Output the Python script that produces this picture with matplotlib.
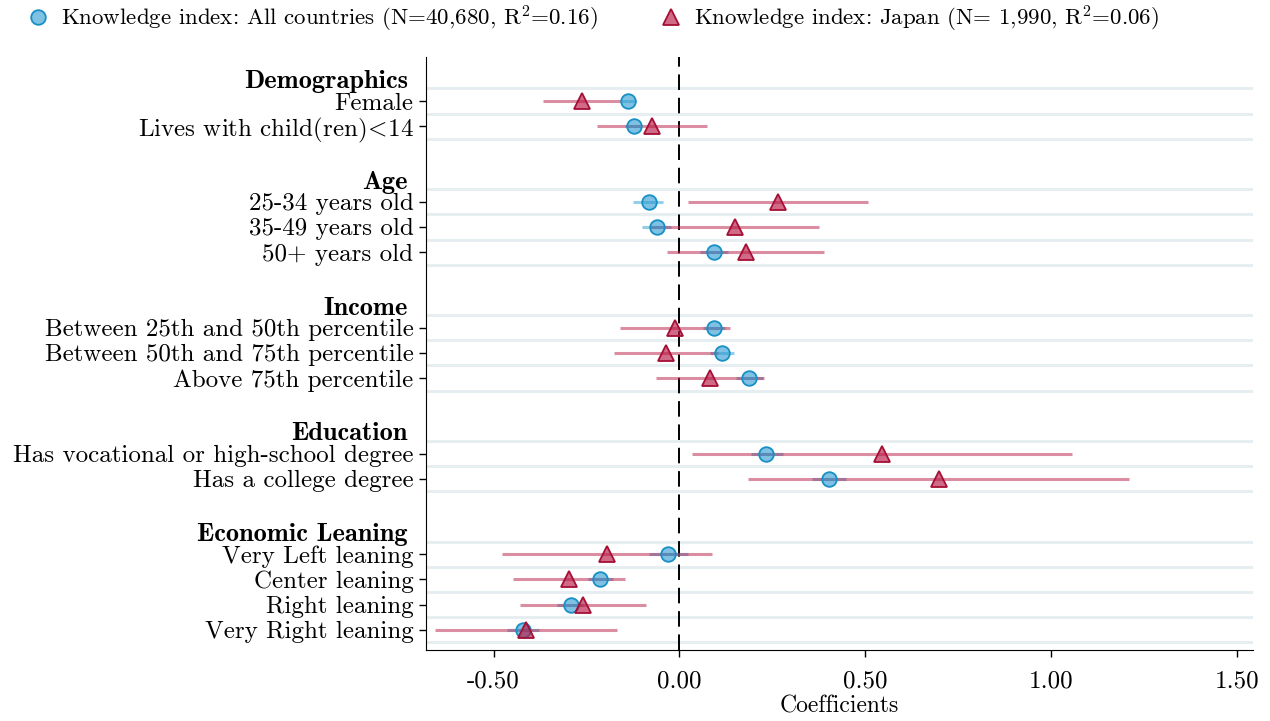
import numpy as np
import matplotlib
matplotlib.use('Agg')
import matplotlib.pyplot as plt
from matplotlib.lines import Line2D

plt.rcParams['font.family'] = ['cmr10', 'DejaVu Serif']
plt.rcParams['mathtext.fontset'] = 'cm'
plt.rcParams['axes.unicode_minus'] = False

# Variables, grouped
groups = ['Demographics', 'Age', 'Income', 'Education', 'Economic Leaning']
group_items = [
    ['Female', r'Lives with child(ren)$\!<\!$14'],
    ['25-34 years old', '35-49 years old', '50+ years old'],
    ['Between 25th and 50th percentile', 'Between 50th and 75th percentile', 'Above 75th percentile'],
    ['Has vocational or high-school degree', 'Has a college degree'],
    ['Very Left leaning', 'Center leaning', 'Right leaning', 'Very Right leaning'],
]

# All countries
all_coef = [-0.139, -0.122, -0.083, -0.061, 0.093, 0.092, 0.116, 0.188, 0.233, 0.403, -0.030, -0.213, -0.291, -0.420]
all_lo = [-0.157, -0.146, -0.125, -0.100, 0.056, 0.063, 0.083, 0.153, 0.192, 0.358, -0.083, -0.245, -0.330, -0.463]
all_hi = [-0.117, -0.106, -0.043, -0.022, 0.130, 0.123, 0.147, 0.226, 0.278, 0.448, 0.024, -0.179, -0.258, -0.377]

# Japan
jp_coef = [-0.262, -0.074, 0.266, 0.149, 0.179, -0.012, -0.036, 0.083, 0.546, 0.698, -0.194, -0.296, -0.259, -0.414]
jp_lo = [-0.366, -0.222, 0.024, -0.078, -0.032, -0.161, -0.175, -0.063, 0.035, 0.185, -0.476, -0.447, -0.429, -0.657]
jp_hi = [-0.158, 0.074, 0.509, 0.376, 0.389, 0.136, 0.103, 0.229, 1.057, 1.211, 0.087, -0.146, -0.090, -0.168]

# positions: each group followed by two empty slots
ypos = []
labels = []
header_y = []
grid_y = []
k = 0
for g, items in zip(groups, group_items):
    header_y.append(k - 0.78)
    for j, it in enumerate(items):
        ypos.append(k)
        labels.append(it)
        k += 1
    grid_y += list(np.arange(ypos[-len(items)] - 0.5, k, 1.0))
    k += 2
ypos = np.array(ypos)

fig = plt.figure(figsize=(12.7, 7.21), dpi=100)
ax = fig.add_axes([0.3354, 0.0985, 0.6512, 0.8225])

for gy in grid_y:
    ax.axhline(gy, color='#e6eef1', lw=2.2, zorder=0)

ax.axvline(0, color='black', lw=1.4, ls=(0, (8, 4)), zorder=1)

blue_line = '#2a9fd0'
red_line = '#b81d45'
blue_face = (0.16, 0.6, 0.82, 0.6)
red_face = (0.72, 0.1, 0.27, 0.65)
ax.hlines(ypos, all_lo, all_hi, color=blue_line, alpha=0.5, lw=2.2, zorder=2)
ax.hlines(ypos, jp_lo, jp_hi, color=red_line, alpha=0.5, lw=2.2, zorder=2)
ax.plot(all_coef, ypos, 'o', ms=10.5, mfc=blue_face, mec='#1790c6', mew=1.3, ls='none', zorder=3)
ax.plot(jp_coef, ypos, '^', ms=11, mfc=red_face, mec='#a50f35', mew=1.3, ls='none', zorder=4)

ax.set_xlim(-0.682, 1.544)
ax.set_ylim(21.8, -1.75)
ax.set_yticks(ypos)
ax.set_yticklabels(labels, fontsize=18)
ax.set_xticks([-0.5, 0, 0.5, 1.0, 1.5])
ax.set_xticklabels(['%.2f' % v for v in [-0.5, 0, 0.5, 1.0, 1.5]], fontsize=18)
ax.tick_params(axis='both', length=5, width=1, pad=4)
ax.tick_params(axis='x', pad=10)
ax.set_xlabel('Coefficients', fontsize=17, labelpad=2)
for s in ['top', 'right']:
    ax.spines[s].set_visible(False)

for g, hy in zip(groups, header_y):
    ax.text(-0.022, hy, g, transform=ax.get_yaxis_transform(), ha='right', va='center',
            fontsize=19, fontfamily=['cmb10', 'DejaVu Serif'])

handles = [
    Line2D([], [], marker='o', ms=10.5, mfc=blue_face, mec='#1790c6', mew=1.3, ls='none'),
    Line2D([], [], marker='^', ms=11, mfc=red_face, mec='#a50f35', mew=1.3, ls='none'),
]
fig.legend(handles, ['Knowledge index: All countries (N=40,680, R$^2$=0.16)',
                     'Knowledge index: Japan (N= 1,990, R$^2$=0.06)'],
           loc='upper left', bbox_to_anchor=(0.003, 1.024), ncol=2, frameon=False,
           fontsize=16.5, handletextpad=0.4, columnspacing=2.6, handlelength=1.2)

fig.savefig('out.png', dpi=100)
